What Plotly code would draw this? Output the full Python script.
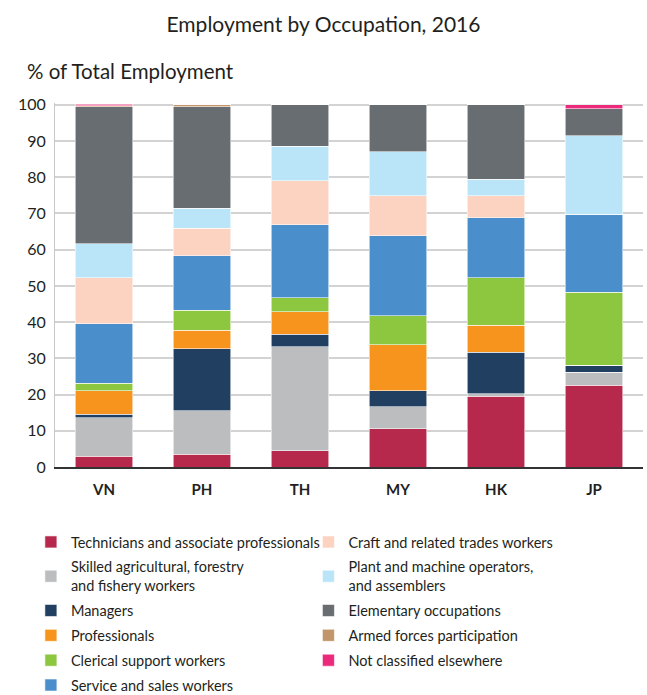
import plotly.graph_objects as go

# Economies shown on the x axis
countries = ["VN", "PH", "TH", "MY", "HK", "JP"]

# Share of total employment (%) by occupation, bottom to top of each stack
technicians = [3.0, 3.5, 4.5, 10.5, 19.6, 22.6]
skilled_agri = [10.6, 12.1, 28.7, 6.1, 0.6, 3.5]
managers = [1.0, 17.1, 3.4, 4.5, 11.5, 2.0]
professionals = [6.5, 5.1, 6.2, 12.6, 7.5, 0.0]
clerical = [2.0, 5.5, 3.9, 8.0, 13.1, 20.2]
service_sales = [16.5, 15.0, 20.2, 22.2, 16.5, 21.5]
craft = [12.6, 7.6, 12.2, 11.0, 6.1, 0.0]
plant_machine = [9.5, 5.5, 9.4, 12.1, 4.5, 21.7]
elementary = [37.7, 28.1, 11.5, 13.0, 20.6, 7.4]
armed_forces = [0.4, 0.5, 0.0, 0.0, 0.0, 0.0]
not_classified = [0.3, 0.0, 0.0, 0.0, 0.0, 1.1]

y_ticks = [0, 10, 20, 30, 40, 50, 60, 70, 80, 90, 100]

series = [
    ("Technicians and associate professionals", technicians, "#B7294C", "legend"),
    ("Skilled agricultural, forestry<br>and fishery workers", skilled_agri, "#BCBDBF", "legend"),
    ("Managers", managers, "#213F60", "legend"),
    ("Professionals", professionals, "#F7941E", "legend"),
    ("Clerical support workers", clerical, "#8DC63F", "legend"),
    ("Service and sales workers", service_sales, "#4A8FCB", "legend"),
    ("Craft and related trades workers", craft, "#FCD3C1", "legend2"),
    ("Plant and machine operators,<br>and assemblers", plant_machine, "#BAE5F8", "legend2"),
    ("Elementary occupations", elementary, "#686D71", "legend2"),
    ("Armed forces participation", armed_forces, "#C1966B", "legend2"),
    ("Not classified elsewhere", not_classified, "#EC2A7B", "legend2"),
]

FONT = "Lato"
W, H = 647, 695

fig = go.Figure()
for i, (name, vals, color, leg) in enumerate(series):
    fig.add_trace(go.Bar(
        x=countries, y=vals, name=name,
        marker=dict(color=color, line=dict(color="rgba(255,255,255,0.7)", width=0.8)),
        width=0.59,
        legend=leg,
        legendgroup=f"g{i}",
    ))

legend_common = dict(
    orientation="v",
    traceorder="grouped",
    tracegroupgap=3,
    font=dict(family=FONT, size=14.5, color="#231F20"),
    bgcolor="rgba(0,0,0,0)",
    xanchor="left", yanchor="top",
    yref="container",
    itemclick=False, itemdoubleclick=False,
)
legend_top = 1 - 526 / H

fig.update_layout(
    width=W, height=H,
    margin=dict(l=55, r=4, t=103, b=228, autoexpand=False),
    paper_bgcolor="white", plot_bgcolor="white",
    barmode="stack",
    bargap=0.41,
    showlegend=True,
    title=dict(
        text="Employment by Occupation, 2016",
        x=0.5, xanchor="center", y=1 - 25 / H, yanchor="middle",
        font=dict(family=FONT, size=21, color="#231F20"),
    ),
    font=dict(family=FONT, color="#231F20"),
    xaxis=dict(
        tickfont=dict(family=FONT, size=15, color="#231F20", weight="bold"),
        showline=True, linecolor="#333333", linewidth=2,
        ticks="", showgrid=False, ticklabelstandoff=8,
    ),
    yaxis=dict(
        range=[0, 100.5], tickvals=y_ticks,
        tickfont=dict(family=FONT, size=16, color="#231F20"),
        showgrid=True, gridcolor="#D3D3D3", gridwidth=1.5,
        showline=True, linecolor="#C8C8C8", linewidth=1,
        zeroline=False, ticks="", ticklabelstandoff=5,
    ),
    legend=dict(legend_common, x=-0.041, y=legend_top),
    legend2=dict(legend_common, x=0.431, y=legend_top),
    annotations=[dict(
        text="% of Total Employment", xref="paper", yref="paper",
        x=-30 / 588, y=(467 - 71) / 364, xanchor="left", yanchor="middle",
        showarrow=False, font=dict(family=FONT, size=20.5, color="#231F20"),
    )],
)

fig.write_html("out.html")
